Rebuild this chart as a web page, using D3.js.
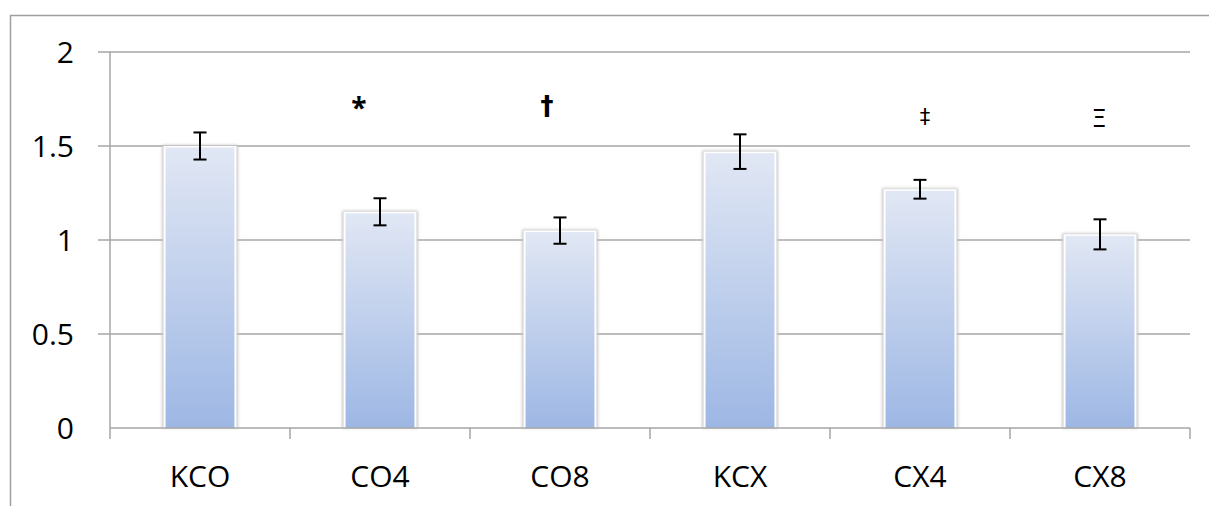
<!DOCTYPE html>
<html>
<head>
<meta charset="utf-8">
<script src="https://cdn.jsdelivr.net/npm/d3@7"></script>
<style>
  html, body { margin: 0; padding: 0; background: #fff; }
  svg { display: block; font-family: "Open Sans", sans-serif; }
</style>
</head>
<body>
<svg id="chart" width="1209" height="506"></svg>
<script>
// Group names along the x axis
const categories = ["KCO", "CO4", "CO8", "KCX", "CX4", "CX8"];
// Mean value of each group
const means = [1.50, 1.15, 1.05, 1.47, 1.27, 1.03];
// Half-length of each error bar
const errors = [0.072, 0.072, 0.070, 0.092, 0.050, 0.080];
// Significance markers shown above groups
const markers = ["", "*", "\u2020", "", "\u2021", "\u039E"];
// Y axis ticks
const yTicks = [0, 0.5, 1, 1.5, 2];

// Marker placement: baseline in value units, horizontal shift in px, and styling
const markerBase = [0, 1.65, 1.666, 0, 1.619, 1.601];
const markerShift = [0, -21, -13, 0, 5, -1];
const markerStyle = [
  {},
  {size: 28, weight: "bold", font: "Open Sans"},
  {size: 26, weight: "bold", font: "DejaVu Sans"},
  {},
  {size: 21, weight: "normal", font: "DejaVu Sans"},
  {size: 24, weight: "normal", font: "DejaVu Sans"}
];

const svg = d3.select("#chart");
const plotLeft = 110, plotRight = 1190, plotTop = 52, plotBottom = 428;
const gridColor = "#a6a6a6";
const labelSize = 30;

const x = d3.scaleBand().domain(categories).range([plotLeft, plotRight])
  .paddingInner(0.595).paddingOuter(0.2975);
const y = d3.scaleLinear().domain([0, 2]).range([plotBottom, plotTop]);

// Outer chart frame
svg.append("path")
  .attr("d", `M10.5,${506 + 5} V15.5 H${1209 + 5}`)
  .attr("fill", "none").attr("stroke", "#a0a0a0").attr("stroke-width", 1.5);

const defs = svg.append("defs");
const grad = defs.append("linearGradient").attr("id", "barFill")
  .attr("x1", 0).attr("y1", 0).attr("x2", 0).attr("y2", 1);
grad.append("stop").attr("offset", "0%").attr("stop-color", "#e1e7f4");
grad.append("stop").attr("offset", "100%").attr("stop-color", "#9db7e4");
const shadow = defs.append("filter").attr("id", "soft")
  .attr("x", "-20%").attr("y", "-20%").attr("width", "140%").attr("height", "140%");
shadow.append("feGaussianBlur").attr("stdDeviation", 1.6);

// Horizontal gridlines with left tick marks
svg.append("g").selectAll("line").data(yTicks.filter(d => d > 0)).join("line")
  .attr("x1", plotLeft - 12).attr("x2", plotRight)
  .attr("y1", d => y(d)).attr("y2", d => y(d))
  .attr("stroke", gridColor).attr("stroke-width", 1.5);

// Y axis line
svg.append("line").attr("x1", plotLeft).attr("x2", plotLeft)
  .attr("y1", plotTop).attr("y2", plotBottom)
  .attr("stroke", gridColor).attr("stroke-width", 1.5);

// Y tick labels
svg.append("g").selectAll("text").data(yTicks).join("text")
  .attr("x", 74).attr("y", d => y(d) + 10.8)
  .attr("text-anchor", "end").attr("font-size", labelSize).attr("fill", "#000")
  .text(d => d);

// Bars: soft shadow, white rim, gradient fill
const bars = svg.append("g");
bars.selectAll("rect.sh").data(categories).join("rect").attr("class", "sh")
  .attr("x", d => x(d) - 1.5).attr("width", x.bandwidth() + 3)
  .attr("y", (d, i) => y(means[i]) - 1)
  .attr("height", (d, i) => y(0) - y(means[i]) + 1)
  .attr("fill", "#c8c8c8").attr("filter", "url(#soft)");
bars.selectAll("rect.rim").data(categories).join("rect").attr("class", "rim")
  .attr("x", d => x(d)).attr("width", x.bandwidth())
  .attr("y", (d, i) => y(means[i]))
  .attr("height", (d, i) => y(0) - y(means[i]))
  .attr("fill", "#ffffff");
bars.selectAll("rect.bar").data(categories).join("rect").attr("class", "bar")
  .attr("x", d => x(d) + 2).attr("width", x.bandwidth() - 4)
  .attr("y", (d, i) => y(means[i]) + 1.5)
  .attr("height", (d, i) => y(0) - y(means[i]) - 1.5)
  .attr("fill", "url(#barFill)");

// X axis line and category boundary ticks
svg.append("line").attr("x1", plotLeft).attr("x2", plotRight)
  .attr("y1", plotBottom).attr("y2", plotBottom)
  .attr("stroke", gridColor).attr("stroke-width", 1.5);
const boundaries = categories.map(c => x(c) - x.step() * x.paddingInner() / 2);
boundaries.push(plotRight);
svg.append("g").selectAll("line").data(boundaries).join("line")
  .attr("x1", d => d).attr("x2", d => d)
  .attr("y1", plotBottom).attr("y2", plotBottom + 11)
  .attr("stroke", gridColor).attr("stroke-width", 1.5);

// Category labels
svg.append("g").selectAll("text").data(categories).join("text")
  .attr("x", d => x(d) + x.bandwidth() / 2).attr("y", 486.5)
  .attr("text-anchor", "middle").attr("font-size", labelSize).attr("fill", "#000")
  .text(d => d);

// Error bars
const eb = svg.append("g").attr("stroke", "#000").attr("stroke-width", 2);
categories.forEach((c, i) => {
  const cx = x(c) + x.bandwidth() / 2;
  const hi = y(means[i] + errors[i]), lo = y(means[i] - errors[i]);
  eb.append("line").attr("x1", cx).attr("x2", cx).attr("y1", hi).attr("y2", lo);
  eb.append("line").attr("x1", cx - 6.5).attr("x2", cx + 6.5).attr("y1", hi).attr("y2", hi);
  eb.append("line").attr("x1", cx - 6.5).attr("x2", cx + 6.5).attr("y1", lo).attr("y2", lo);
});

// Significance markers
svg.append("g").selectAll("text").data(categories).join("text")
  .attr("x", (d, i) => x(d) + x.bandwidth() / 2 + markerShift[i])
  .attr("y", (d, i) => y(markerBase[i]))
  .attr("text-anchor", "middle")
  .attr("font-family", (d, i) => markerStyle[i].font || null)
  .attr("font-size", (d, i) => markerStyle[i].size || 20)
  .attr("font-weight", (d, i) => markerStyle[i].weight || "normal")
  .attr("fill", "#000")
  .text((d, i) => markers[i]);
</script>
</body>
</html>
